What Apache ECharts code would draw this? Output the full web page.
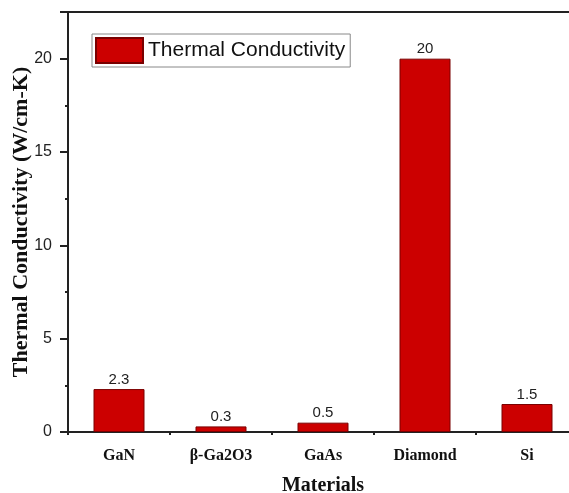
<!DOCTYPE html>
<html>
<head>
<meta charset="utf-8">
<script src="https://cdn.jsdelivr.net/npm/echarts@6/dist/echarts.min.js"></script>
<style>html,body{margin:0;padding:0;background:#fff;}#c{width:569px;height:493px;}</style>
</head>
<body>
<div id="c"></div>
<script>
const categories = ['GaN', 'β-Ga2O3', 'GaAs', 'Diamond', 'Si'];
const conductivity = [2.3, 0.3, 0.5, 20, 1.5];
const yMajorTicks = [0, 5, 10, 15, 20];
const seriesName = 'Thermal Conductivity';

const chart = echarts.init(document.getElementById('c'), null, {renderer: 'canvas'});
const serif = '"Liberation Serif", "Times New Roman", serif';
const sans = '"Liberation Sans", Arial, sans-serif';
chart.setOption({
  animation: false,
  backgroundColor: '#fff',
  grid: {left: 68, top: 12, width: 510, height: 420, containLabel: false, outerBoundsMode: 'none',
         show: true, borderColor: '#222', borderWidth: 2, backgroundColor: 'transparent'},
  legend: {
    left: 92, top: 34,
    padding: [3, 5, 3, 3],
    borderColor: '#888', borderWidth: 1,
    itemWidth: 47, itemHeight: 25, itemGap: 7,
    textStyle: {fontFamily: sans, fontSize: 21, color: '#111'},
    data: [{name: seriesName, icon: 'rect'}]
  },
  xAxis: [{
    type: 'category', data: categories, position: 'bottom',
    axisLine: {lineStyle: {color: '#222', width: 2}},
    axisTick: {alignWithLabel: true, length: 7, lineStyle: {color: '#222', width: 2}},
    axisLabel: {fontFamily: serif, fontWeight: 'bold', fontSize: 16, color: '#111', margin: 16},
    name: 'Materials', nameLocation: 'middle', nameGap: 44, nameMoveOverlap: false,
    nameTextStyle: {fontFamily: serif, fontWeight: 'bold', fontSize: 20, color: '#111'}
  }, {
    type: 'category', data: categories, position: 'bottom', gridIndex: 0, offset: 0,
    axisLine: {show: false},
    axisTick: {show: true, alignWithLabel: false, length: 3, lineStyle: {color: '#222', width: 2}},
    axisLabel: {show: false}
  }],
  yAxis: [{
    type: 'value', min: 0, max: 22.5, interval: 2.5, position: 'left', offset: 0,
    splitLine: {show: false},
    axisLine: {show: true, lineStyle: {color: '#222', width: 2}},
    axisTick: {show: true, length: 3, lineStyle: {color: '#222', width: 2}},
    axisLabel: {
      fontFamily: sans, fontSize: 16, color: '#222', margin: 16,
      formatter: v => (yMajorTicks.indexOf(v) >= 0 ? String(v) : '')
    },
    name: 'Thermal Conductivity (W/cm-K)', nameLocation: 'middle', nameGap: 36, nameMoveOverlap: false,
    nameTextStyle: {fontFamily: serif, fontWeight: 'bold', fontSize: 22, color: '#111'}
  }, {
    type: 'value', min: 0, max: 22.5, interval: 5, position: 'left', offset: 0,
    splitLine: {show: false},
    axisLine: {show: false},
    axisTick: {show: true, length: 8, lineStyle: {color: '#222', width: 2}},
    axisLabel: {show: false}
  }],
  series: [{
    name: seriesName, type: 'bar', data: conductivity, barWidth: '50%',
    itemStyle: {color: '#cc0000', borderColor: '#7a0000', borderWidth: 1},
    label: {show: true, position: 'top', distance: 2, fontFamily: sans, fontSize: 15, color: '#222'}
  }, {
    name: 'ticks', type: 'line', data: [], xAxisIndex: 1, yAxisIndex: 1, silent: true
  }]
});
</script>
</body>
</html>
